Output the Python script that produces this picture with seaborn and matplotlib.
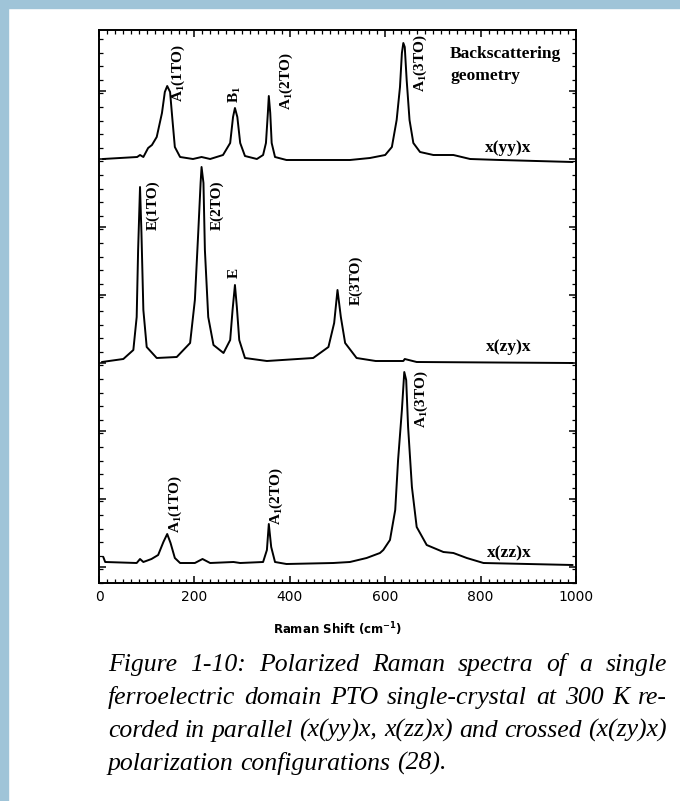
import matplotlib
matplotlib.use("Agg")
import matplotlib.pyplot as plt
import seaborn as sns
from matplotlib.ticker import MultipleLocator, FixedLocator, NullFormatter
from matplotlib.patches import Rectangle

# ---------------- data (Raman shift in cm^-1, intensity in arbitrary units) -------------
yy_shift = [8, 80, 86, 93, 103, 111, 121, 132, 138, 143, 149, 154, 159, 170, 197, 215, 233,
            260, 275, 281, 285, 290, 296, 306, 331, 344, 350, 354, 356, 359, 362, 369, 393,
            526, 568, 600, 614, 624, 631, 635, 638, 641, 645, 651, 659, 673, 701, 743, 778,
            841, 993]
yy_int = [424, 426, 428, 426, 435, 438, 446, 470, 491, 497, 491, 463, 436, 426, 424, 426, 424,
          428, 440, 466, 475, 466, 440, 427, 424, 428, 440, 470, 487, 470, 440, 426, 423,
          423, 425, 428, 436, 463, 496, 530, 540, 536, 503, 463, 440, 431, 428, 428, 424,
          423, 421]

zy_shift = [6, 51, 72, 79, 82, 86, 89, 93, 100, 121, 163, 191, 201, 208, 213, 215, 219, 222,
            229, 240, 261, 275, 280, 285, 289, 294, 306, 352, 449, 481, 493, 500, 507, 516,
            540, 580, 638, 641, 666, 993]
zy_int = [221, 224, 233, 266, 333, 396, 350, 273, 236, 225, 226, 240, 283, 350, 400, 416, 400,
          333, 266, 238, 230, 243, 273, 298, 276, 243, 225, 222, 225, 236, 260, 293, 266, 240,
          225, 222, 222, 224, 221, 220]

zz_shift = [9, 13, 79, 86, 93, 110, 124, 135, 143, 150, 159, 170, 201, 217, 233, 282, 296,
            344, 352, 356, 361, 369, 393, 491, 526, 561, 589, 596, 610, 621, 627, 635, 640,
            644, 648, 656, 666, 687, 722, 743, 771, 806, 993]
zz_int = [26, 21, 20, 24, 21, 24, 28, 41, 49, 40, 25, 20, 20, 24, 20, 21, 20,
          21, 33, 59, 36, 21, 19, 20, 21, 25, 30, 33, 43, 73, 123, 173, 211,
          203, 156, 96, 56, 38, 31, 30, 25, 20, 18]

x_ticks = [0, 200, 400, 600, 800, 1000]
y_major_ticks = [16, 84, 152, 220, 288, 356, 424, 492]

peak_labels = [r"A$_1$(1TO)", r"B$_1$", r"A$_1$(2TO)", r"A$_1$(3TO)",
               "E(1TO)", "E(2TO)", "E", "E(3TO)",
               r"A$_1$(1TO)", r"A$_1$(2TO)", r"A$_1$(3TO)"]
peak_label_x = [166, 285, 392, 673, 113, 247, 283, 539, 161, 371, 675]
peak_label_y = [481, 480, 473, 491, 353, 353, 305, 278, 50, 58, 155]

config_labels = ["x(yy)x", "x(zy)x", "x(zz)x"]
config_x = [858, 858, 860]
config_y = [435, 236, 30]

caption_lines = [
    "Figure 1-10: Polarized Raman spectra of a single",
    "ferroelectric domain PTO  single-crystal at 300 K re-",
    "corded in parallel (x(yy)x, x(zz)x) and crossed (x(zy)x)",
    "polarization configurations (28).",
]

# ---------------- figure ----------------
sns.set_theme(style="white")
plt.rcParams["font.family"] = ["DejaVu Sans"]
plt.rcParams["mathtext.default"] = "regular"

W, H = 680, 801
fig = plt.figure(figsize=(W / 100, H / 100), dpi=100)
fig.patch.set_facecolor("white")

# light blue frame on left and top
border = "#9fc4d8"
fig.add_artist(Rectangle((0, 0), 8 / W, 1, transform=fig.transFigure, color=border, zorder=0))
fig.add_artist(Rectangle((0, 1 - 8 / H), 1, 8 / H, transform=fig.transFigure, color=border, zorder=0))

ax_l, ax_r, ax_t, ax_b = 99, 576, 30, 583
ax = fig.add_axes([ax_l / W, 1 - ax_b / H, (ax_r - ax_l) / W, (ax_b - ax_t) / H])
ax.set_facecolor("white")

for xs, ys in [(yy_shift, yy_int), (zy_shift, zy_int), (zz_shift, zz_int)]:
    sns.lineplot(x=xs, y=ys, ax=ax, color="black", lw=1.4, estimator=None, sort=False)

ax.set_xlim(0, 1000)
ax.set_ylim(0, 553)

for s in ax.spines.values():
    s.set_visible(True)
    s.set_color("black")
    s.set_linewidth(1.4)

ax.xaxis.set_major_locator(FixedLocator(x_ticks))
ax.xaxis.set_minor_locator(MultipleLocator(200 / 12))
ax.yaxis.set_major_locator(FixedLocator(y_major_ticks))
ax.yaxis.set_minor_locator(MultipleLocator(13.6))
ax.yaxis.set_major_formatter(NullFormatter())
ax.tick_params(which="both", direction="in", top=True, right=True, left=True, bottom=True,
               color="black")
ax.tick_params(which="major", length=5, width=1.1)
ax.tick_params(which="minor", length=2.8, width=0.9)
ax.tick_params(axis="x", which="major", labelsize=10, pad=5, labelcolor="black")
ax.set_xticklabels([str(t) for t in x_ticks])
ax.set_ylabel("")
ax.set_xlabel(r"Raman Shift (cm$^{-1}$)", fontsize=8.5, fontweight="bold", labelpad=12,
              color="black")

serif_bold = dict(family=["Liberation Serif", "DejaVu Serif"], fontweight="bold", color="black")
for lab, lx, ly in zip(peak_labels, peak_label_x, peak_label_y):
    ax.text(lx, ly, lab, rotation=90, ha="center", va="bottom", fontsize=11, **serif_bold)
for lab, lx, ly in zip(config_labels, config_x, config_y):
    ax.text(lx, ly, lab, ha="center", va="center", fontsize=12.5, **serif_bold)
ax.text(736, 518, "Backscattering\ngeometry", ha="left", va="center", linespacing=1.55,
        fontsize=12.5, **serif_bold)

# ---------------- justified caption ----------------
cap_font = dict(family=["Liberation Serif", "DejaVu Serif"], style="italic", fontsize=18.5,
                color="black")
renderer = fig.canvas.get_renderer()
left_px, right_px = 108, 667
baselines = [671, 704, 737, 770]
probe_a = fig.text(0, 0, "a", **cap_font)
probe_aa = fig.text(0, 0, "a a", **cap_font)
space_w = (probe_aa.get_window_extent(renderer).width
           - 2 * probe_a.get_window_extent(renderer).width)
probe_a.remove()
probe_aa.remove()
for i, (line, base) in enumerate(zip(caption_lines, baselines)):
    words = line.split()
    texts = [fig.text(0, 1 - base / H, w, ha="left", va="baseline", **cap_font) for w in words]
    widths = [t.get_window_extent(renderer).width for t in texts]
    if i < len(caption_lines) - 1:
        gap = max((right_px - left_px - sum(widths)) / (len(words) - 1), 0.6 * space_w)
    else:
        gap = space_w
    x = left_px
    for t, w in zip(texts, widths):
        t.set_x(x / W)
        x += w + gap

fig.savefig("out.png", dpi=100, facecolor="white")
